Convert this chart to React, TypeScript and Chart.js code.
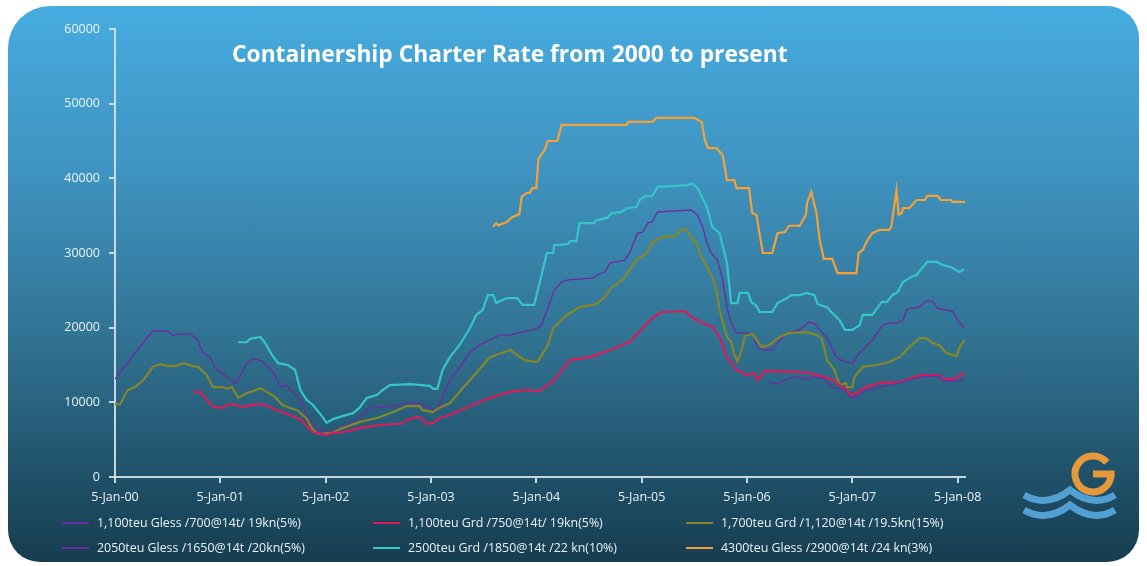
import React, { useEffect, useRef } from "react";
import { Chart, registerables } from "chart.js";

Chart.register(...registerables);

// ---- data (x = years since 5-Jan-2000, y = USD/day) ----
const xTickLabels = ["5-Jan-00", "5-Jan-01", "5-Jan-02", "5-Jan-03", "5-Jan-04", "5-Jan-05", "5-Jan-06", "5-Jan-07", "5-Jan-08"];
const yTickValues = [0, 10000, 20000, 30000, 40000, 50000, 60000];

const seriesNames = [
  "1,100teu Gless /700@14t/ 19kn(5%)",
  "1,100teu Grd /750@14t/ 19kn(5%)",
  "1,700teu Grd /1,120@14t /19.5kn(15%)",
  "2050teu Gless /1650@14t /20kn(5%)",
  "2500teu Grd /1850@14t /22 kn(10%)",
  "4300teu Gless /2900@14t /24 kn(3%)",
];
const seriesColors = ["#6a2f9e", "#d81c5c", "#85862a", "#6a2f9e", "#36c5c8", "#f6a135"];

const gless1100Years = [6.21, 6.28, 6.38, 6.47, 6.57, 6.62, 6.72, 6.81, 6.91, 6.99, 7.04, 7.13, 7.26, 7.45, 7.57, 7.70, 7.83, 7.86, 7.99, 8.06];
const gless1100Rates = [12700, 12450, 13100, 13400, 13100, 13400, 13250, 12050, 11800, 10600, 10750, 11650, 12050, 12600, 13100, 13500, 13500, 12850, 12850, 13100];

const grd1100Years = [0.74, 0.81, 0.87, 0.93, 1.02, 1.07, 1.11, 1.21, 1.31, 1.38, 1.44, 1.54, 1.66, 1.76, 1.88, 2.01, 2.06, 2.16, 2.32, 2.45, 2.64, 2.72, 2.77, 2.87, 2.91, 2.96, 3.02, 3.08, 3.18, 3.37, 3.56, 3.75, 3.89, 4.03, 4.17, 4.32, 4.51, 4.70, 4.89, 5.01, 5.10, 5.19, 5.41, 5.48, 5.58, 5.67, 5.74, 5.81, 5.90, 6.00, 6.07, 6.10, 6.17, 6.50, 6.59, 6.72, 6.81, 6.91, 6.99, 7.04, 7.13, 7.26, 7.45, 7.64, 7.83, 7.86, 7.95, 8.06];
const grd1100Rates = [11400, 11400, 10300, 9400, 9250, 9650, 9800, 9400, 9650, 9800, 9500, 8950, 8300, 7700, 6000, 5600, 5900, 6000, 6550, 6850, 7100, 7100, 7650, 8050, 7900, 7100, 7250, 7900, 8300, 9500, 10600, 11400, 11650, 11500, 13000, 15650, 16050, 17000, 18100, 19950, 21300, 22100, 22200, 21400, 20600, 20100, 18750, 16050, 14350, 13650, 13900, 13000, 14200, 14050, 13900, 13500, 13000, 12050, 11000, 11250, 12050, 12600, 12700, 13650, 13650, 13100, 13100, 13900];

const grd1700Years = [0.00, 0.05, 0.08, 0.12, 0.19, 0.27, 0.36, 0.43, 0.50, 0.57, 0.65, 0.74, 0.79, 0.87, 0.93, 1.02, 1.06, 1.11, 1.17, 1.25, 1.31, 1.38, 1.44, 1.52, 1.59, 1.66, 1.73, 1.82, 1.88, 1.94, 2.06, 2.16, 2.32, 2.49, 2.64, 2.77, 2.89, 2.92, 3.02, 3.08, 3.18, 3.37, 3.56, 3.75, 3.89, 4.01, 4.11, 4.16, 4.29, 4.41, 4.57, 4.65, 4.72, 4.82, 4.95, 5.05, 5.10, 5.20, 5.33, 5.36, 5.43, 5.46, 5.52, 5.55, 5.62, 5.67, 5.71, 5.74, 5.81, 5.85, 5.88, 5.91, 5.95, 5.98, 6.05, 6.14, 6.21, 6.31, 6.40, 6.57, 6.66, 6.71, 6.76, 6.83, 6.88, 6.94, 6.95, 7.00, 7.02, 7.10, 7.23, 7.35, 7.45, 7.54, 7.64, 7.70, 7.76, 7.83, 7.89, 7.99, 8.02, 8.07];
const grd1700Rates = [9750, 9750, 10600, 11650, 12050, 13000, 14750, 15100, 14850, 14850, 15250, 14850, 14750, 13650, 12050, 12050, 11800, 12050, 10600, 11250, 11500, 11900, 11400, 10700, 9650, 9250, 8950, 7800, 6300, 5750, 5900, 6550, 7350, 7900, 8700, 9500, 9500, 8950, 8700, 9250, 9900, 13000, 16050, 17000, 15650, 15400, 17650, 19950, 21700, 22750, 23150, 24100, 25450, 26400, 29050, 30000, 31450, 32150, 32250, 33100, 33100, 32150, 31450, 30000, 28100, 26800, 25050, 22350, 18750, 18100, 16350, 15500, 17000, 18900, 19150, 17400, 17650, 18750, 19300, 19400, 19000, 18600, 15650, 14350, 12300, 12600, 12050, 12050, 13400, 14750, 15000, 15400, 16050, 17400, 18600, 18600, 17950, 17650, 16600, 16200, 17400, 18450];

const gless2050Years = [0.00, 0.19, 0.36, 0.50, 0.55, 0.60, 0.71, 0.78, 0.83, 0.90, 0.95, 1.04, 1.13, 1.17, 1.25, 1.31, 1.40, 1.50, 1.57, 1.63, 1.69, 1.73, 1.78, 1.82, 1.92, 1.94, 2.06, 2.16, 2.32, 2.42, 2.58, 2.77, 2.89, 3.02, 3.05, 3.18, 3.27, 3.37, 3.46, 3.65, 3.75, 4.01, 4.05, 4.17, 4.24, 4.30, 4.54, 4.57, 4.65, 4.70, 4.84, 4.89, 4.96, 5.01, 5.06, 5.10, 5.15, 5.47, 5.53, 5.58, 5.62, 5.66, 5.72, 5.77, 5.81, 5.85, 5.90, 6.05, 6.10, 6.15, 6.24, 6.31, 6.40, 6.50, 6.59, 6.64, 6.71, 6.76, 6.85, 6.91, 7.00, 7.07, 7.19, 7.29, 7.35, 7.42, 7.48, 7.52, 7.64, 7.70, 7.76, 7.81, 7.95, 8.00, 8.06];
const gless2050Rates = [13100, 16600, 19550, 19550, 18900, 19150, 19150, 18500, 16700, 16100, 14600, 13650, 12600, 13000, 15250, 15900, 15500, 14050, 12050, 12300, 11250, 10700, 9900, 8000, 6550, 6000, 6000, 6700, 7900, 9250, 9400, 9900, 9900, 9000, 8700, 13000, 14600, 16700, 17650, 19000, 19000, 19900, 20350, 25000, 26100, 26400, 26650, 27050, 27450, 28650, 29050, 30100, 32650, 32800, 34000, 34150, 35500, 35750, 35100, 33500, 31300, 30000, 29050, 26400, 22750, 20600, 19300, 19150, 17400, 17000, 17000, 18350, 19400, 19700, 20750, 20600, 19400, 18600, 16050, 15500, 15250, 16600, 18350, 20350, 20600, 20600, 21000, 22500, 22750, 23550, 23550, 22600, 22200, 21000, 19950];

const grd2500Years = [1.17, 1.25, 1.28, 1.38, 1.42, 1.49, 1.55, 1.64, 1.71, 1.76, 1.82, 1.88, 1.97, 2.01, 2.07, 2.16, 2.26, 2.32, 2.39, 2.49, 2.54, 2.61, 2.80, 2.99, 3.02, 3.06, 3.11, 3.18, 3.27, 3.37, 3.43, 3.49, 3.54, 3.59, 3.62, 3.72, 3.82, 3.87, 3.98, 4.03, 4.10, 4.16, 4.17, 4.30, 4.32, 4.38, 4.41, 4.55, 4.57, 4.67, 4.72, 4.81, 4.86, 4.95, 4.98, 5.03, 5.10, 5.15, 5.29, 5.44, 5.48, 5.53, 5.62, 5.67, 5.74, 5.81, 5.85, 5.91, 5.93, 6.01, 6.04, 6.09, 6.12, 6.24, 6.29, 6.38, 6.42, 6.50, 6.57, 6.64, 6.67, 6.76, 6.81, 6.88, 6.93, 7.00, 7.07, 7.10, 7.19, 7.28, 7.33, 7.38, 7.43, 7.48, 7.56, 7.61, 7.71, 7.80, 7.86, 7.94, 7.99, 8.02, 8.06];
const grd2500Rates = [18050, 18050, 18500, 18750, 18050, 16350, 15250, 15000, 14350, 11650, 10300, 9650, 8050, 7250, 7750, 8150, 8550, 9250, 10600, 11000, 11650, 12300, 12450, 12200, 11800, 11800, 14350, 16050, 17650, 19950, 21700, 22350, 24350, 24350, 23300, 23950, 23950, 23050, 23050, 25950, 30000, 30000, 31050, 31200, 31600, 31600, 34000, 34000, 34400, 34700, 35350, 35500, 36000, 36150, 37100, 37600, 37600, 38850, 38950, 39100, 39350, 38700, 36150, 33500, 32650, 28650, 23300, 23300, 24650, 24650, 23450, 22900, 22100, 22100, 23300, 23950, 24350, 24350, 24650, 24350, 23150, 22750, 21950, 21000, 19700, 19700, 20350, 21700, 21700, 23450, 23450, 24350, 24750, 26100, 26800, 27050, 28800, 28800, 28400, 28100, 27700, 27450, 27850];

const gless4300Years = [3.59, 3.62, 3.64, 3.72, 3.77, 3.84, 3.86, 3.91, 3.94, 3.96, 4.00, 4.02, 4.08, 4.11, 4.20, 4.24, 4.86, 4.87, 5.10, 5.14, 5.50, 5.57, 5.60, 5.63, 5.71, 5.77, 5.81, 5.88, 5.90, 6.02, 6.05, 6.09, 6.15, 6.24, 6.29, 6.36, 6.40, 6.50, 6.56, 6.57, 6.61, 6.66, 6.69, 6.73, 6.81, 6.86, 7.04, 7.06, 7.10, 7.14, 7.19, 7.26, 7.35, 7.37, 7.42, 7.44, 7.47, 7.48, 7.54, 7.61, 7.69, 7.71, 7.81, 7.84, 7.94, 7.95, 8.07];
const gless4300Rates = [33500, 34000, 33700, 34150, 34800, 35200, 37500, 38050, 38050, 38700, 38700, 42600, 43800, 45000, 45000, 47150, 47150, 47550, 47550, 48100, 48100, 47550, 45150, 44050, 44050, 43100, 39750, 39750, 38700, 38700, 35350, 35100, 30000, 30000, 32650, 32800, 33650, 33650, 35100, 36700, 38150, 35350, 31750, 29200, 29200, 27300, 27300, 30000, 30400, 31600, 32650, 33100, 33100, 33500, 38450, 35100, 35350, 36000, 36000, 37100, 37100, 37650, 37650, 37100, 37100, 36850, 36850];

const seriesYears = [gless1100Years, grd1100Years, grd1700Years, gless2050Years, grd2500Years, gless4300Years];
const seriesRates = [gless1100Rates, grd1100Rates, grd1700Rates, gless2050Rates, grd2500Rates, gless4300Rates];
const seriesWidths = [1.4, 2.2, 2.2, 1.4, 2.2, 2.2];

const FONT = "'Open Sans', 'Noto Sans', sans-serif";
const TEXT = "#eaf3f8";
const AXIS = "rgba(214,228,236,0.9)";

export default function App() {
  const canvasRef = useRef<HTMLCanvasElement | null>(null);

  useEffect(() => {
    const canvas = canvasRef.current;
    if (!canvas) return;
    const datasets = seriesNames.map((name, i) => ({
      label: name,
      data: seriesYears[i].map((x, j) => ({ x, y: seriesRates[i][j] })),
      borderColor: seriesColors[i],
      backgroundColor: seriesColors[i],
      borderWidth: seriesWidths[i],
      pointRadius: 0,
      tension: 0,
      fill: false,
    }));
    const chart = new Chart(canvas, {
      type: "line",
      data: { datasets },
      options: {
        responsive: false,
        devicePixelRatio: 1,
        animation: false,
        layout: { padding: { left: 0, right: 182, top: 29, bottom: 0 } },
        plugins: { legend: { display: false }, tooltip: { enabled: false }, title: { display: false } },
        scales: {
          x: {
            type: "linear",
            min: 0,
            max: 8.07,
            afterFit: (s: any) => { s.height = 89; },
            afterBuildTicks: (s: any) => { s.ticks = xTickLabels.map((_, i) => ({ value: i })); },
            border: { display: true, color: AXIS, width: 2 },
            grid: { display: true, drawOnChartArea: false, drawTicks: true, tickLength: 6, color: AXIS, lineWidth: 2 },
            ticks: {
              color: TEXT,
              font: { family: FONT, size: 12.5 },
              padding: 7,
              maxRotation: 0,
              autoSkip: false,
              callback: (v: any) => xTickLabels[Math.round(Number(v))] ?? "",
            },
          },
          y: {
            type: "linear",
            min: 0,
            max: 60000,
            afterFit: (s: any) => { s.width = 115; },
            afterBuildTicks: (s: any) => { s.ticks = yTickValues.map((v) => ({ value: v })); },
            border: { display: true, color: AXIS, width: 2 },
            grid: { display: true, drawOnChartArea: false, drawTicks: true, tickLength: 6, color: AXIS, lineWidth: 2 },
            ticks: {
              color: TEXT,
              font: { family: FONT, size: 12.5 },
              padding: 9,
              callback: (v: any) => String(v),
            },
          },
        },
      },
    });
    return () => chart.destroy();
  }, []);

  const legendCols = [62, 373, 686];
  const legendRows = [523, 548];

  return (
    <div style={{ position: "fixed", left: 0, top: 0, width: 1147, height: 566, background: "#ffffff", overflow: "hidden" }}>
      <div
        style={{
          position: "absolute",
          left: 8,
          top: 6,
          width: 1131,
          height: 556,
          borderRadius: "42px 32px 32px 32px",
          background: "linear-gradient(180deg, #46acdf 0%, #3f93c0 30%, #30708f 62%, #1f5068 85%, #173d50 100%)",
        }}
      />
      <canvas ref={canvasRef} width={1147} height={566} style={{ position: "absolute", left: 0, top: 0 }} />
      <div
        style={{
          position: "absolute",
          left: 232,
          top: 39,
          color: "#ffffff",
          fontFamily: FONT,
          fontWeight: 700,
          fontSize: 22.8,
          whiteSpace: "nowrap",
          lineHeight: "30px",
        }}
      >
        Containership Charter Rate from 2000 to present
      </div>
      {seriesNames.map((name, i) => {
        const col = i % 3;
        const row = Math.floor(i / 3);
        const lx = legendCols[col];
        const cy = legendRows[row];
        return (
          <React.Fragment key={name}>
            <div style={{ position: "absolute", left: lx, top: cy - 1, width: 27, height: 2, background: seriesColors[i] }} />
            <div
              style={{
                position: "absolute",
                left: lx + 35,
                top: cy - 9,
                height: 18,
                lineHeight: "18px",
                color: TEXT,
                fontFamily: FONT,
                fontSize: 12.4,
                whiteSpace: "nowrap",
              }}
            >
              {name}
            </div>
          </React.Fragment>
        );
      })}
      <svg width={1147} height={566} style={{ position: "absolute", left: 0, top: 0 }}>
        <path d="M1106.8,462.4 A18,18 0 1 0 1111,474" fill="none" stroke="#e4993a" strokeWidth={7} />
        <path d="M1093,474 L1114.5,474" fill="none" stroke="#e4993a" strokeWidth={7} />
        <path d="M1024,495 Q1047,508 1070,490 Q1093,508 1115,495" fill="none" stroke="#529fd4" strokeWidth={7} />
        <path d="M1024,510 Q1047,523 1070,505 Q1093,523 1115,510" fill="none" stroke="#529fd4" strokeWidth={7} />
      </svg>
    </div>
  );
}
